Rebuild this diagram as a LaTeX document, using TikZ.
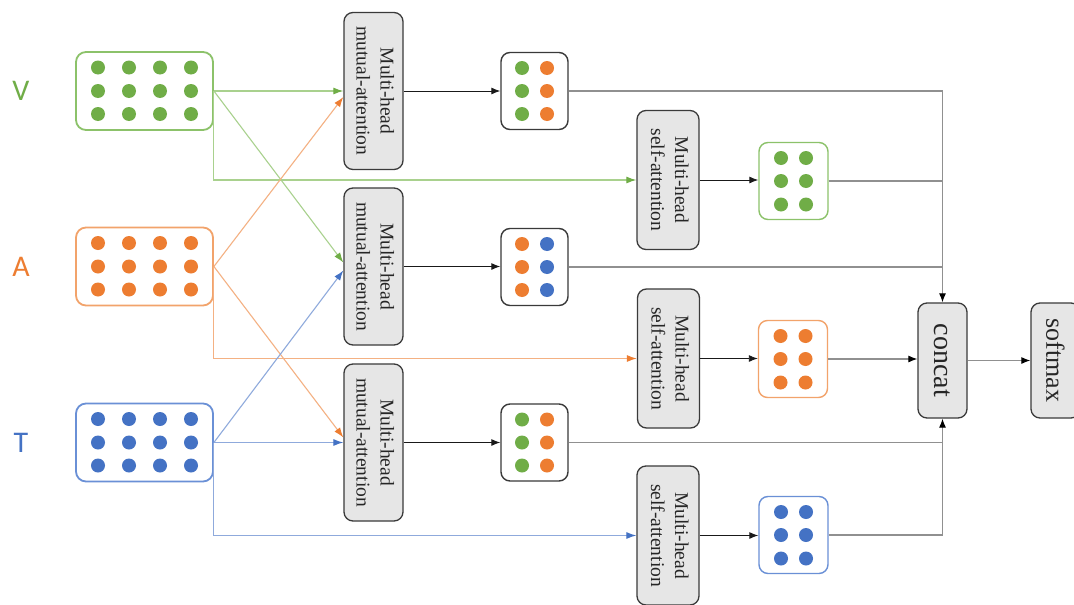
\documentclass[tikz,border=0pt]{standalone}
\usepackage{fontspec}
\usepackage{graphicx}
\setmainfont{Liberation Serif}
\newfontfamily\labelfont{Carlito}
\usetikzlibrary{arrows.meta,calc}

% modality colours
\definecolor{vdot}{HTML}{70AD47}
\definecolor{adot}{HTML}{ED7D31}
\definecolor{tdot}{HTML}{4472C4}
\definecolor{vline}{HTML}{A9D18E}
\definecolor{aline}{HTML}{F4B183}
\definecolor{tline}{HTML}{8FAADC}
\definecolor{vedge}{HTML}{8CC26A}
\definecolor{aedge}{HTML}{F2A36B}
\definecolor{tedge}{HTML}{6A90D6}
\definecolor{boxgray}{HTML}{E6E6E6}
\definecolor{edgedark}{HTML}{3A3A3A}
\definecolor{outgray}{HTML}{909090}

% two-line caption turned to read top to bottom
\newcommand{\turnedtext}[2]{\rotatebox{-90}{\begin{tabular}{@{}c@{}}#1\\#2\end{tabular}}}
% grid of dots inside a box node
\newcommand{\dotfield}[4]{%
  \foreach \dx in {#3}{\foreach \dy in {#4}{\fill[#2] ($(#1)+(\dx,\dy)$) circle (7pt);}}}

\begin{document}
\begin{tikzpicture}[x=1pt,y=-1pt,
  attbox/.style={draw=edgedark, line width=1.3pt, fill=boxgray, rounded corners=9pt,
    inner sep=0pt, minimum width=59pt, minimum height=157pt,
    font=\fontsize{19.5}{24}\selectfont, text=black!85},
  selfbox/.style={attbox, minimum width=62pt, minimum height=139pt},
  bigbox/.style={attbox, minimum width=49pt, minimum height=115pt,
    font=\fontsize{28}{30}\selectfont},
  inbox/.style={rounded corners=10pt, line width=1.8pt, inner sep=0pt,
    minimum width=137pt, minimum height=78pt},
  pairbox/.style={draw=edgedark, line width=1.4pt, fill=white, rounded corners=9pt,
    inner sep=0pt, minimum width=67pt, minimum height=77pt},
  singlebox/.style={line width=1.4pt, fill=white, rounded corners=9pt,
    inner sep=0pt, minimum width=69pt, minimum height=77pt},
  modlabel/.style={font=\labelfont\fontsize{30}{30}\selectfont, inner sep=0pt},
  vlink/.style={draw=vline, line width=1.1pt},
  alink/.style={draw=aline, line width=1.1pt},
  tlink/.style={draw=tline, line width=1.1pt},
  vtip/.style={-{Latex[length=10pt,width=7pt,color=vdot]}},
  atip/.style={-{Latex[length=10pt,width=7pt,color=adot]}},
  ttip/.style={-{Latex[length=10pt,width=7pt,color=tdot]}},
  blacklink/.style={draw=black!90, line width=0.9pt, -{Latex[length=9pt,width=7pt]}},
  graylink/.style={draw=outgray, line width=1.1pt},
  graytip/.style={-{Latex[length=9pt,width=7pt,color=black]}}
]
\fill[white] (0,0) rectangle (1074,605);
\useasboundingbox (0,0) rectangle (1074,605);
\clip (0,0) rectangle (1074,605);

% modality labels
\node[modlabel, text=vdot] (Vlab) at (21,91) {V};
\node[modlabel, text=adot] (Alab) at (21,267) {A};
\node[modlabel, text=tdot] (Tlab) at (21,443) {T};

% input feature boxes
\node[inbox, draw=vedge] (Vbox) at (144.5,91) {};
\node[inbox, draw=aedge] (Abox) at (144.5,266.5) {};
\node[inbox, draw=tedge] (Tbox) at (144.5,442.5) {};
\dotfield{Vbox}{vdot}{-46.5,-15.5,15.5,46.5}{-23.5,0,23}
\dotfield{Abox}{adot}{-46.5,-15.5,15.5,46.5}{-23.5,0,23}
\dotfield{Tbox}{tdot}{-46.5,-15.5,15.5,46.5}{-23.5,0,23}

% mutual attention blocks
\node[attbox] (MA1) at (373.5,91) {\turnedtext{Multi-head}{mutual-attention}};
\node[attbox] (MA2) at (373.5,266.5) {\turnedtext{Multi-head}{mutual-attention}};
\node[attbox] (MA3) at (373.5,442.5) {\turnedtext{Multi-head}{mutual-attention}};

% self attention blocks
\node[selfbox] (SA1) at (668,180) {\turnedtext{Multi-head}{self-attention}};
\node[selfbox] (SA2) at (668.5,358.5) {\turnedtext{Multi-head}{self-attention}};
\node[selfbox] (SA3) at (668,535.5) {\turnedtext{Multi-head}{self-attention}};

% fused outputs
\node[pairbox] (P1) at (534.5,91) {};
\node[pairbox] (P2) at (534.5,267) {};
\node[pairbox] (P3) at (534.5,442.5) {};
\dotfield{P1}{vdot}{-12.5}{-23,0,23}
\dotfield{P1}{adot}{12.5}{-23,0,23}
\dotfield{P2}{adot}{-12.5}{-23,0,23}
\dotfield{P2}{tdot}{12.5}{-23,0,23}
\dotfield{P3}{vdot}{-12.5}{-23,0,23}
\dotfield{P3}{adot}{12.5}{-23,0,23}

% self-attended outputs
\node[singlebox, draw=vedge] (S1) at (793.5,181) {};
\node[singlebox, draw=aedge] (S2) at (793,359) {};
\node[singlebox, draw=tedge] (S3) at (793.5,535) {};
\dotfield{S1}{vdot}{-12.5,12.5}{-23,0,23.5}
\dotfield{S2}{adot}{-12.5,12.5}{-23,0,23.5}
\dotfield{S3}{tdot}{-12.5,12.5}{-23,0,23.5}

% fusion head
\node[bigbox] (concat) at (942.5,360.5) {\rotatebox{-90}{concat}};
\node[bigbox, font=\fontsize{26}{28}\selectfont] (softmax) at (1055.5,360.5) {\rotatebox{-90}{softmax}};

% V links
\draw[vlink, vtip] (Vbox.east) -- (MA1.west);
\draw[vlink, vtip] (Vbox.east) -- ($(MA2.west)+(0,-4)$);
\draw[vlink, vtip] (Vbox.east) |- (SA1.west);
% A links
\draw[alink, atip] (Abox.east) -- ($(MA1.west)+(0,6)$);
\draw[alink, atip] (Abox.east) -- ($(MA3.west)+(0,-5)$);
\draw[alink, atip] (Abox.east) |- (SA2.west);
% T links
\draw[tlink, ttip] (Tbox.east) -- (MA3.west);
\draw[tlink, ttip] (Tbox.east) -- ($(MA2.west)+(0,4)$);
\draw[tlink, ttip] (Tbox.east) |- (SA3.west);

% attention outputs
\draw[blacklink] (MA1.east) -- (MA1.east -| P1.west);
\draw[blacklink] (MA2.east) -- (MA2.east -| P2.west);
\draw[blacklink] (MA3.east) -- (MA3.east -| P3.west);
\draw[blacklink] (SA1.east) -- (SA1.east -| S1.west);
\draw[blacklink] (SA2.east) -- (SA2.east -| S2.west);
\draw[blacklink] (SA3.east) -- (SA3.east -| S3.west);

% gathering into concat
\draw[graylink, graytip] (P1.east) -| (concat.north);
\draw[graylink] (S1.east) -- (S1.east -| concat.north);
\draw[graylink] (P2.east) -- (P2.east -| concat.north);
\draw[graylink, graytip] (S2.east) -- (S2.east -| concat.west);
\draw[graylink, graytip] (S3.east) -| (concat.south);
\draw[graylink] (P3.east) -- (P3.east -| concat.south);
\draw[graylink, graytip] (concat.east) -- (concat.east -| softmax.west);
\end{tikzpicture}
\end{document}
